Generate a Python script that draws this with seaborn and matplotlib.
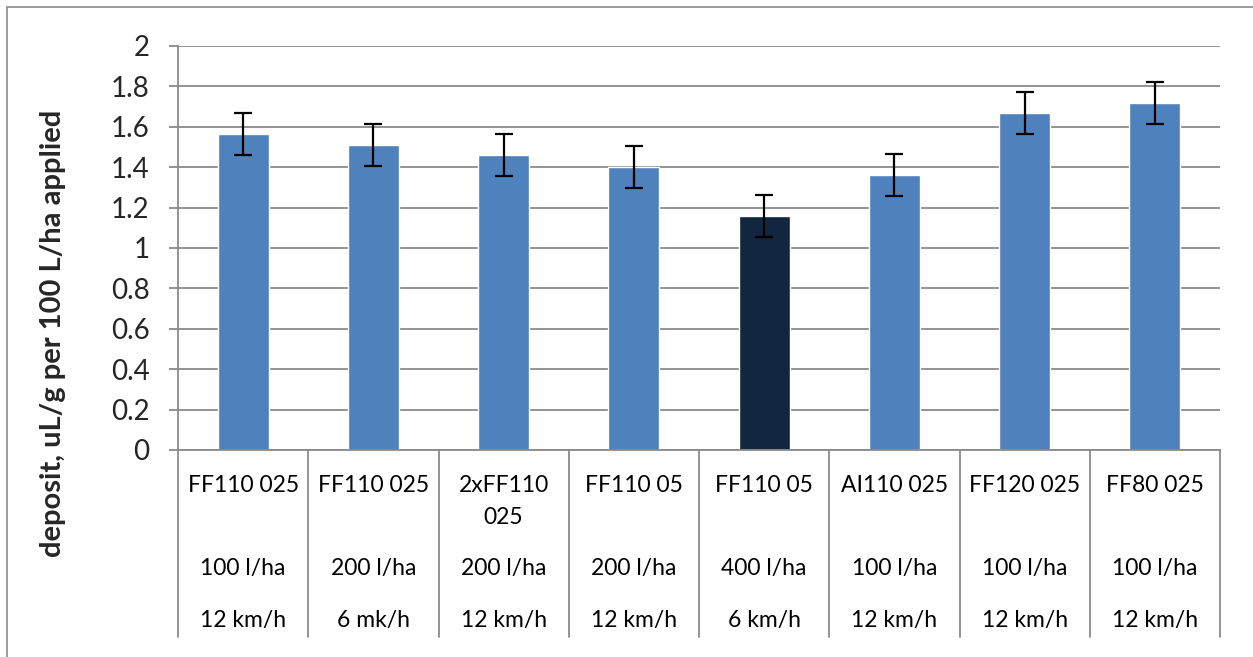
import matplotlib
matplotlib.use("Agg")
import matplotlib.pyplot as plt
import matplotlib.transforms as mtransforms
from matplotlib.patches import Rectangle
import seaborn as sns
import pandas as pd

# ---- data ----
nozzles = ["FF110 025", "FF110 025", "2xFF110\n025", "FF110 05", "FF110 05",
           "AI110 025", "FF120 025", "FF80 025"]
rates = ["100 l/ha", "200 l/ha", "200 l/ha", "200 l/ha", "400 l/ha",
         "100 l/ha", "100 l/ha", "100 l/ha"]
speeds = ["12 km/h", "6 mk/h", "12 km/h", "12 km/h", "6 km/h",
          "12 km/h", "12 km/h", "12 km/h"]
deposit = [1.565, 1.51, 1.46, 1.40, 1.16, 1.362, 1.668, 1.718]
errors = [0.104, 0.104, 0.104, 0.104, 0.104, 0.104, 0.104, 0.104]
bar_colors = ["#4F81BD", "#4F81BD", "#4F81BD", "#4F81BD", "#12263F",
              "#4F81BD", "#4F81BD", "#4F81BD"]
yticks = [0, 0.2, 0.4, 0.6, 0.8, 1, 1.2, 1.4, 1.6, 1.8, 2]
ylabel = "deposit, uL/g per 100 L/ha applied"

W, H = 1253, 657
sns.set_theme(style="white")
plt.rcParams['font.family'] = ['Lato', 'DejaVu Sans']

fig = plt.figure(figsize=(W / 100, H / 100), dpi=100)
ax_l, ax_r, ax_t, ax_b = 178, 1220, 46, 450
ax = fig.add_axes([ax_l / W, 1 - ax_b / H, (ax_r - ax_l) / W, (ax_b - ax_t) / H])

keys = [f"c{i}" for i in range(len(deposit))]
df = pd.DataFrame({"key": keys, "deposit": deposit})
sns.barplot(data=df, x="key", y="deposit", hue="key", palette=bar_colors,
            legend=False, width=0.39, ax=ax, saturation=1, errorbar=None)
ax.errorbar(range(len(deposit)), deposit, yerr=errors, fmt="none",
            ecolor="black", elinewidth=1.6, capsize=6.5, capthick=1.6, zorder=5)

ax.set_xlim(-0.5, len(deposit) - 0.5)
ax.set_ylim(0, 2)
ax.set_yticks(yticks)
ax.set_yticklabels([f"{v:g}" for v in yticks], fontsize=20)
ax.set_xticks([])
ax.set_xlabel("")
ax.set_ylabel("")
ax.yaxis.grid(True, color="#8A8A8A", linewidth=1.3)
ax.set_axisbelow(True)
ax.tick_params(axis="y", which="major", left=True, length=6.5, width=1.3,
               color="#8A8A8A", pad=14)
for s in ["top", "right"]:
    ax.spines[s].set_visible(False)
for s in ["left", "bottom"]:
    ax.spines[s].set_color("#8A8A8A")
    ax.spines[s].set_linewidth(1.3)

# category table below the axis
ph = ax_b - ax_t
def yfrac(py):
    return (ax_b - py) / ph
trans = mtransforms.blended_transform_factory(ax.transData, ax.transAxes)
for i in range(len(deposit) + 1):
    ax.plot([i - 0.5, i - 0.5], [0, yfrac(637)], transform=trans, color="#8A8A8A",
            lw=1.3, clip_on=False)
for i in range(len(deposit)):
    for k, line in enumerate(nozzles[i].split("\n")):
        ax.text(i, yfrac(486 + 31 * k), line, transform=trans, ha="center",
                va="center", fontsize=16.5, color="black")
    ax.text(i, yfrac(569), rates[i], transform=trans, ha="center", va="center",
            fontsize=16.5, color="black")
    ax.text(i, yfrac(621), speeds[i], transform=trans, ha="center", va="center",
            fontsize=16.5, color="black")

fig.text(53 / W, 1 - 333 / H, ylabel, rotation=90, ha="center", va="center",
         fontsize=21, fontweight="bold")

# outer chart border
fig.patches.append(Rectangle((7 / W, -0.2), 1.3, 1.2 - 7 / H,
                             transform=fig.transFigure, fill=False,
                             edgecolor="#8A8A8A", lw=1.2))

fig.savefig("out.png", dpi=100, facecolor="white")
